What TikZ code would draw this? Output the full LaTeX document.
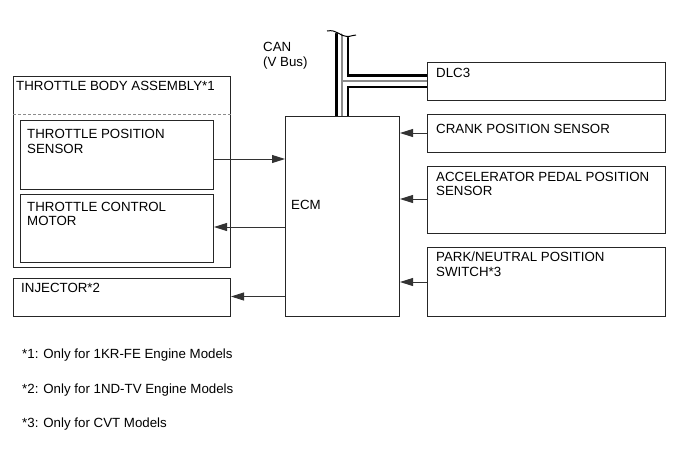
\documentclass[tikz,border=0pt]{standalone}
\usepackage{fontspec}
\setmainfont{Liberation Sans}
\usetikzlibrary{arrows.meta}
\begin{document}
\begin{tikzpicture}[x=1pt,y=-1pt,
  box/.style={draw=black!85,line width=1pt,rectangle,inner sep=0pt,anchor=north west},
  lbl/.style={anchor=base west,inner sep=0pt,align=left,font=\fontsize{13.3}{14.5}\selectfont},
  sig/.style={draw=black!80,line width=0.9pt,-{Triangle[length=13pt,width=8pt]}},
  every node/.append style={text=black}]
\useasboundingbox (0,0) rectangle (690,467);
% boxes
\node[box,minimum width=217pt,minimum height=191pt] (tba) at (13,76) {};
\node[box,minimum width=193pt,minimum height=69pt] (tps) at (20,120) {};
\node[box,minimum width=193pt,minimum height=68pt] (tcm) at (20,194) {};
\node[box,minimum width=217pt,minimum height=38pt] (inj) at (13,278) {};
\node[box,minimum width=114pt,minimum height=200pt] (ecm) at (285,116) {};
\node[box,minimum width=238pt,minimum height=38pt] (dlc) at (427,62) {};
\node[box,minimum width=238pt,minimum height=38pt] (crk) at (427,114) {};
\node[box,minimum width=238pt,minimum height=67pt] (app) at (427,166) {};
\node[box,minimum width=238pt,minimum height=69pt] (pnp) at (427,247) {};
% dashed separator
\coordinate (dashy) at (0,114);
\draw[draw=black!45,line width=1pt,dash pattern=on 3pt off 2pt] (tba.west |- dashy) -- (tba.east |- dashy);
% texts (base = baseline of last line)
\node[lbl] (t1) at (16,90) {THROTTLE BODY ASSEMBLY*1};
\node[lbl] (t2) at (27,153) {THROTTLE POSITION\\SENSOR};
\node[lbl] (t3) at (27,225.5) {THROTTLE CONTROL\\MOTOR};
\node[lbl] (t4) at (21,292) {INJECTOR*2};
\node[lbl] (t5) at (291,209) {ECM};
\node[lbl] (t6) at (436,77) {DLC3};
\node[lbl] (t7) at (436,133) {CRANK POSITION SENSOR};
\node[lbl] (t8) at (436,195.5) {ACCELERATOR PEDAL POSITION\\SENSOR};
\node[lbl] (t9) at (436,276) {PARK/NEUTRAL POSITION\\SWITCH*3};
\node[lbl] (can) at (263,66) {CAN\\(V Bus)};
\node[lbl] (f1) at (22,358) {*1: Only for 1KR-FE Engine Models};
\node[lbl] (f2) at (22,393) {*2: Only for 1ND-TV Engine Models};
\node[lbl] (f3) at (22,427) {*3: Only for CVT Models};
% signal arrows
\coordinate (y1) at (0,159);
\coordinate (y2) at (0,227);
\coordinate (y3) at (0,296.5);
\coordinate (y4) at (0,133);
\coordinate (y5) at (0,199);
\coordinate (y6) at (0,282);
\draw[sig] (tps.east |- y1) -- (ecm.west |- y1);
\draw[sig] (ecm.west |- y2) -- (tcm.east |- y2);
\draw[sig] (ecm.west |- y3) -- (inj.east |- y3);
\draw[sig] (crk.west |- y4) -- (ecm.east |- y4);
\draw[sig] (app.west |- y5) -- (ecm.east |- y5);
\draw[sig] (pnp.west |- y6) -- (ecm.east |- y6);
% CAN bus cable
\coordinate (bustop) at (342,33);
\coordinate (busx) at (342,0);
\coordinate (busj) at (342,81);
\foreach \w/\c in {14pt/black, 9pt/white, 1.2pt/black!45}{
  \draw[line width=\w,draw=\c,line cap=butt] (bustop) -- (busx |- ecm.north);
  \draw[line width=\w,draw=\c,line cap=butt] (busj) -- (dlc.west |- busj);
}
\fill[white] (334,33) -- (349,33) -- (349,37) -- (346,37) -- (341,33) -- cycle;
\draw[line width=1pt] (327,31) .. controls (337,29) and (340,36.5) .. (347,36.5) .. controls (351,36.5) and (353,35) .. (356,35);
\end{tikzpicture}
\end{document}
